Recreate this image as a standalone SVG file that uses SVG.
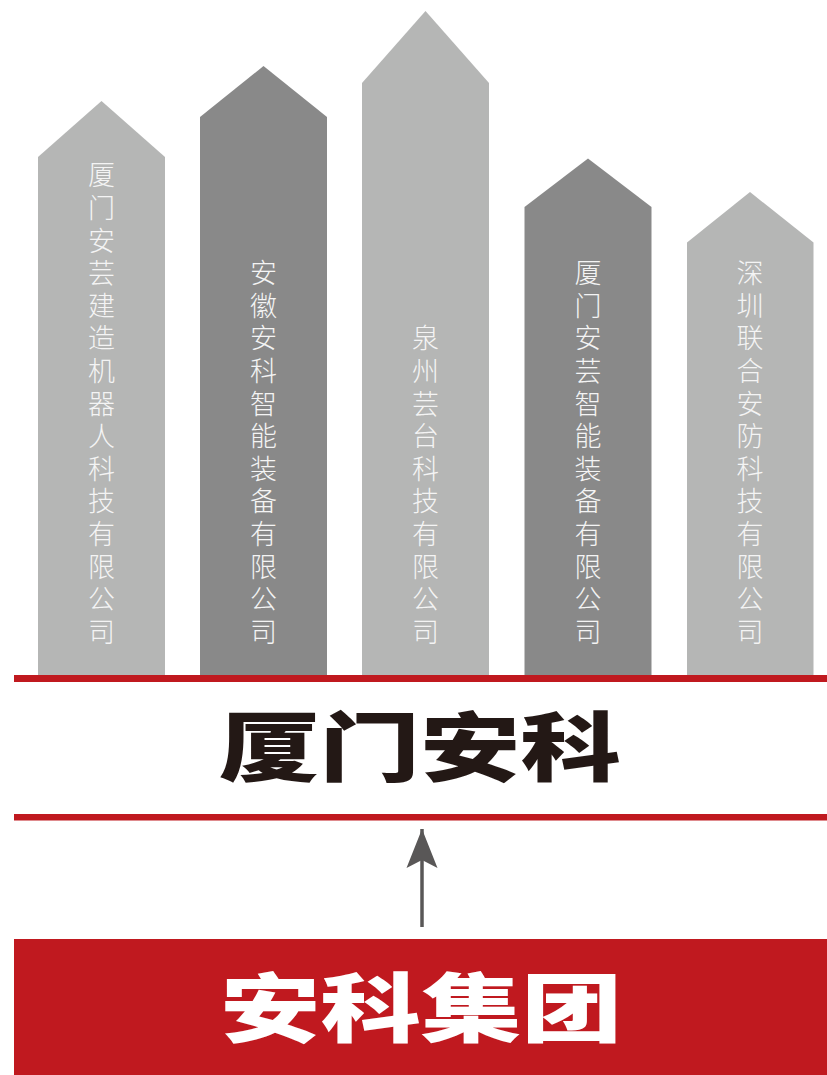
<svg xmlns="http://www.w3.org/2000/svg" width="827" height="1075" viewBox="0 0 827 1075">
<style>
.light{fill:#b5b6b5}
.dark{fill:#898989}
.col{font-family:"Noto Sans CJK SC","Noto Sans",sans-serif;font-size:27px;font-weight:300;fill:#f4f4f4;text-anchor:middle}
.big{font-family:"Noto Sans CJK SC","Noto Sans",sans-serif;font-size:75px;font-weight:900}
.red{fill:#c0191f}
</style>
<defs>
<marker id="ah" markerUnits="userSpaceOnUse" markerWidth="40" markerHeight="32" refX="39" refY="16" orient="auto" viewBox="0 0 40 32">
<path d="M39,16 L0,0.5 L8,16 L0,31.5 Z" fill="#595757"/>
</marker>
</defs>
<rect width="827" height="1075" fill="#ffffff"/>
<g id="node-1">
<path class="light" d="M38,675 V157 L101.5,101 L165,157 V675 Z"/>
<text class="col" x="101.5" y="185.3"><tspan x="101.5">厦</tspan><tspan x="101.5" dy="32.6">门</tspan><tspan x="101.5" dy="32.6">安</tspan><tspan x="101.5" dy="32.6">芸</tspan><tspan x="101.5" dy="32.6">建</tspan><tspan x="101.5" dy="32.6">造</tspan><tspan x="101.5" dy="32.6">机</tspan><tspan x="101.5" dy="32.6">器</tspan><tspan x="101.5" dy="32.6">人</tspan><tspan x="101.5" dy="32.6">科</tspan><tspan x="101.5" dy="32.6">技</tspan><tspan x="101.5" dy="32.6">有</tspan><tspan x="101.5" dy="32.6">限</tspan><tspan x="101.5" dy="32.6">公</tspan><tspan x="101.5" dy="32.6">司</tspan></text>
</g>
<g id="node-2">
<path class="dark" d="M200,675 V117 L263.5,66 L327,117 V675 Z"/>
<text class="col" x="263.5" y="283.1"><tspan x="263.5">安</tspan><tspan x="263.5" dy="32.6">徽</tspan><tspan x="263.5" dy="32.6">安</tspan><tspan x="263.5" dy="32.6">科</tspan><tspan x="263.5" dy="32.6">智</tspan><tspan x="263.5" dy="32.6">能</tspan><tspan x="263.5" dy="32.6">装</tspan><tspan x="263.5" dy="32.6">备</tspan><tspan x="263.5" dy="32.6">有</tspan><tspan x="263.5" dy="32.6">限</tspan><tspan x="263.5" dy="32.6">公</tspan><tspan x="263.5" dy="32.6">司</tspan></text>
</g>
<g id="node-3">
<path class="light" d="M362,675 V83 L425.5,11 L489,83 V675 Z"/>
<text class="col" x="425.5" y="348.3"><tspan x="425.5">泉</tspan><tspan x="425.5" dy="32.6">州</tspan><tspan x="425.5" dy="32.6">芸</tspan><tspan x="425.5" dy="32.6">台</tspan><tspan x="425.5" dy="32.6">科</tspan><tspan x="425.5" dy="32.6">技</tspan><tspan x="425.5" dy="32.6">有</tspan><tspan x="425.5" dy="32.6">限</tspan><tspan x="425.5" dy="32.6">公</tspan><tspan x="425.5" dy="32.6">司</tspan></text>
</g>
<g id="node-4">
<path class="dark" d="M524.5,675 V207 L588,158.5 L651.5,207 V675 Z"/>
<text class="col" x="588" y="283.1"><tspan x="588">厦</tspan><tspan x="588" dy="32.6">门</tspan><tspan x="588" dy="32.6">安</tspan><tspan x="588" dy="32.6">芸</tspan><tspan x="588" dy="32.6">智</tspan><tspan x="588" dy="32.6">能</tspan><tspan x="588" dy="32.6">装</tspan><tspan x="588" dy="32.6">备</tspan><tspan x="588" dy="32.6">有</tspan><tspan x="588" dy="32.6">限</tspan><tspan x="588" dy="32.6">公</tspan><tspan x="588" dy="32.6">司</tspan></text>
</g>
<g id="node-5">
<path class="light" d="M687,675 V242.5 L750,192 L813.5,242.5 V675 Z"/>
<text class="col" x="750" y="283.1"><tspan x="750">深</tspan><tspan x="750" dy="32.6">圳</tspan><tspan x="750" dy="32.6">联</tspan><tspan x="750" dy="32.6">合</tspan><tspan x="750" dy="32.6">安</tspan><tspan x="750" dy="32.6">防</tspan><tspan x="750" dy="32.6">科</tspan><tspan x="750" dy="32.6">技</tspan><tspan x="750" dy="32.6">有</tspan><tspan x="750" dy="32.6">限</tspan><tspan x="750" dy="32.6">公</tspan><tspan x="750" dy="32.6">司</tspan></text>
</g>
<g id="node-xiamen">
<rect class="red" x="14" y="675" width="813" height="7"/>
<text class="big" x="219" y="775" fill="#231815" textLength="402" lengthAdjust="spacingAndGlyphs">厦门安科</text>
<rect class="red" x="14" y="814" width="813" height="6.5"/>
</g>
<g id="node-group">
<rect class="red" x="14" y="939" width="813" height="136"/>
<text class="big" x="220" y="1036" fill="#ffffff" textLength="402" lengthAdjust="spacingAndGlyphs">安科集团</text>
</g>
<g id="connectors">
<line x1="422" y1="927" x2="422" y2="829" stroke="#595757" stroke-width="3.5" marker-end="url(#ah)"/>
</g>
</svg>
